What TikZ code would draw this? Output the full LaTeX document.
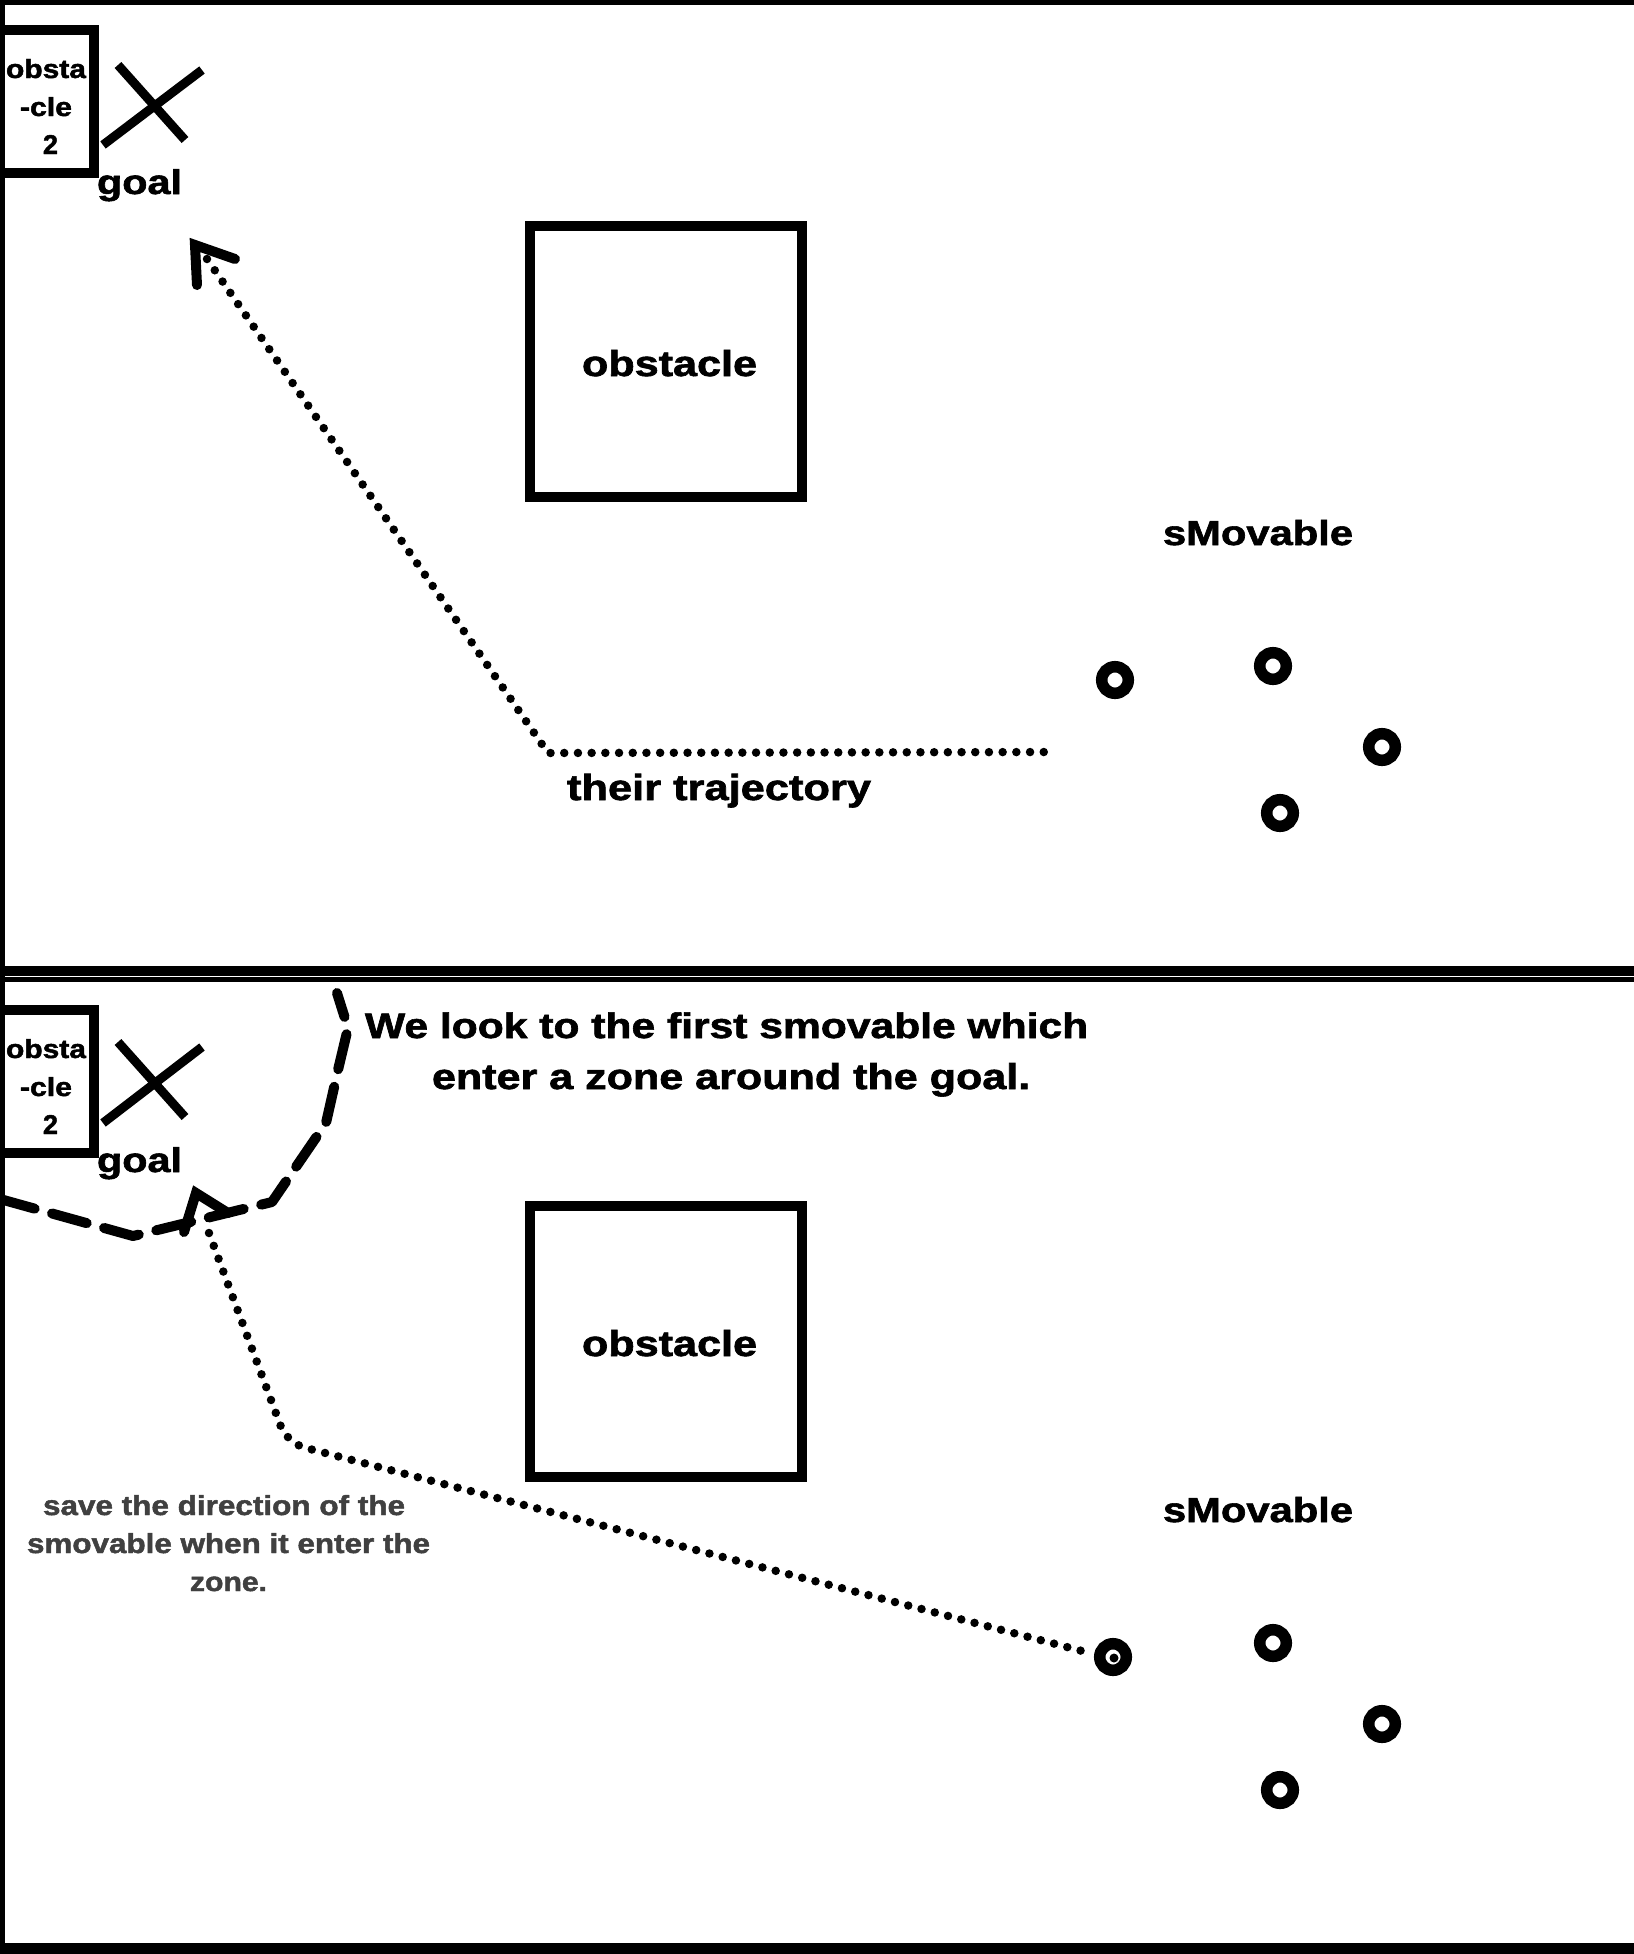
\documentclass[tikz,border=0pt]{standalone}
\usepackage{fontspec}
\setmainfont{Liberation Sans}[BoldFeatures={FakeBold=1.6}]
\usepackage{graphicx}
\definecolor{notegray}{RGB}{64,64,64}
\tikzset{
  lbl/.style={anchor=base west, inner sep=0pt, outer sep=0pt},
  frame/.style={draw, line width=10bp, line join=miter},
  xmark/.style={line width=9bp, line cap=butt},
  ring/.style={draw, line width=11.5bp},
  dotline/.style={line width=8.5bp, line cap=round, dash pattern=on 0bp off 13.7bp},
  zone/.style={line width=10bp, line cap=round, line join=round, dash pattern=on 36bp off 18bp},
  arrowhead/.style={line width=10bp, line cap=round, line join=miter},
  obsbox/.style={draw, line width=10bp, minimum width=272.5bp, minimum height=271bp, inner sep=0pt},
}
% text fitted to a width, with the wide (stretched) look of the drawing
\newcommand{\fitbf}[2]{\resizebox{#1bp}{!}{\scalebox{1.2}[1]{\bfseries #2}}}
% text fitted to a width and a height
\newcommand{\fitwh}[3]{\resizebox{#1bp}{#2bp}{\bfseries #3}}
\begin{document}
\begin{tikzpicture}[x=1bp,y=-1bp]
\useasboundingbox (0,0) rectangle (1634,1954);
\fill[white] (0,0) rectangle (1634,1954);
% borders
\fill (0,0) rectangle (1634,4.5);
\fill (0,0) rectangle (4.5,1954);
\fill (0,966) rectangle (1634,976);
\fill (0,977) rectangle (1634,982);
\fill (0,1943) rectangle (1634,1954);

% ================= TOP PANEL =================
\draw[frame] (0,30) -- (94,30) -- (94,173) -- (0,173);
\node[lbl] (oa1) at (6,78) {\fitwh{80}{19}{obsta}};
\node[lbl] (ob1) at (20,116) {\fitwh{52}{19}{-cle}};
\node[lbl] (oc1) at (43,154) {\fitwh{15}{19}{2}};
\coordinate (xa1) at (118,65); \coordinate (xb1) at (185,140);
\coordinate (xc1) at (103,145); \coordinate (xd1) at (202,70);
\draw[xmark] (xa1) -- (xb1);
\draw[xmark] (xc1) -- (xd1);
\node[lbl] (goal1) at (97,194) {\fitbf{85}{goal}};

\coordinate (ah1) at (197,285); \coordinate (tip1) at (195,245); \coordinate (ah2) at (235,259);
\draw[arrowhead] (ah1) -- (tip1) -- (ah2);
\coordinate (t1s) at (207,259); \coordinate (t1c) at (548,753); \coordinate (t1e) at (1052,752);
\draw[dotline] (t1s) -- (t1c) -- (t1e);

\node[obsbox] (obs1) at (666,361.5) {};
\node[lbl] (obst1) at (582,376) {\fitbf{175}{obstacle}};
\node[lbl] (traj) at (567,800) {\fitbf{304}{their trajectory}};
\node[lbl] (sm1) at (1163,545) {\fitbf{190}{sMovable}};

\draw[ring] (1115,680) circle[radius=13.3];
\draw[ring] (1273,666) circle[radius=13.3];
\draw[ring] (1382,747) circle[radius=13.3];
\draw[ring] (1280,813) circle[radius=13.3];

% ================= BOTTOM PANEL =================
\draw[frame] (0,1010) -- (94,1010) -- (94,1153) -- (0,1153);
\node[lbl] (oa2) at (6,1058) {\fitwh{80}{19}{obsta}};
\node[lbl] (ob2) at (20,1096) {\fitwh{52}{19}{-cle}};
\node[lbl] (oc2) at (43,1134) {\fitwh{15}{19}{2}};
\coordinate (xa2) at (118,1042); \coordinate (xb2) at (185,1117);
\coordinate (xc2) at (103,1123); \coordinate (xd2) at (202,1047);
\draw[xmark] (xa2) -- (xb2);
\draw[xmark] (xc2) -- (xd2);
\node[lbl] (goal2) at (97,1172) {\fitbf{85}{goal}};

% zone around the goal
\coordinate (z0) at (0,1199); \coordinate (z1) at (133,1236); \coordinate (z2) at (272,1202);
\coordinate (z3) at (326,1123); \coordinate (z4) at (338,1070); \coordinate (z5) at (348,1028);
\coordinate (z6) at (337,993);
\draw[zone] (z0) -- (z1) -- (z2) -- (z3) -- (z4) -- (z5) -- (z6);

\coordinate (ah3) at (184,1232); \coordinate (tip2) at (196,1193); \coordinate (ah4) at (228,1213);
\draw[arrowhead] (ah3) -- (tip2) -- (ah4);
\coordinate (t2s) at (209,1233); \coordinate (t2c) at (287,1443); \coordinate (t2e) at (1086,1652);
\draw[dotline, rounded corners=18bp] (t2s) -- (t2c) -- (t2e);

\node[obsbox] (obs2) at (666,1341.5) {};
\node[lbl] (obst2) at (582,1356) {\fitbf{175}{obstacle}};

\node[lbl] (look1) at (365,1038) {\fitbf{723}{We look to the first smovable which}};
\node[lbl] (look2) at (432,1089) {\fitbf{598}{enter a zone around the goal.}};

\node[lbl, text=notegray] (sv1) at (43,1515) {\fitwh{362}{20}{save the direction of the}};
\node[lbl, text=notegray] (sv2) at (27,1553) {\fitwh{403}{20}{smovable when it enter the}};
\node[lbl, text=notegray] (sv3) at (190,1591) {\fitwh{77}{14.5}{zone.}};

\node[lbl] (sm2) at (1163,1522) {\fitbf{190}{sMovable}};

\draw[ring] (1113,1657) circle[radius=13.3];
\fill (1114,1658) circle[radius=4.5];
\draw[ring] (1273,1643) circle[radius=13.3];
\draw[ring] (1382,1724) circle[radius=13.3];
\draw[ring] (1280,1790) circle[radius=13.3];
\end{tikzpicture}
\end{document}
